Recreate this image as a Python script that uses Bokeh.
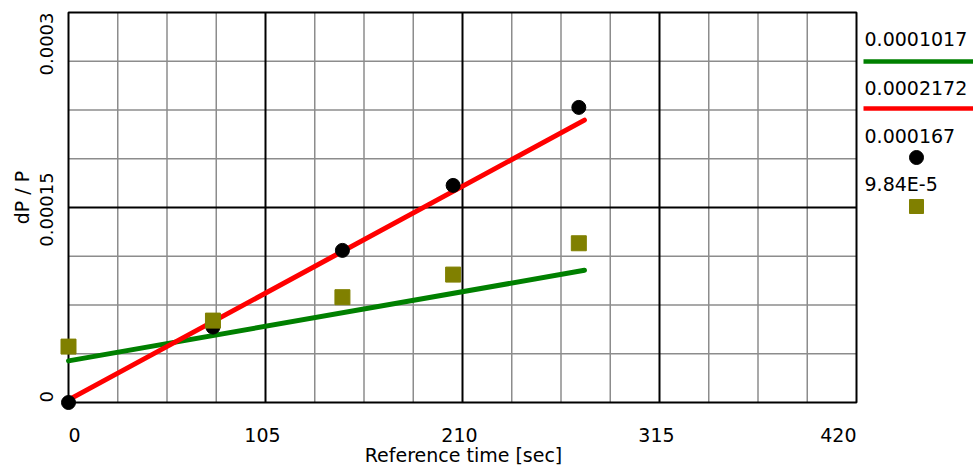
import math
from bokeh.plotting import figure
from bokeh.models import Range1d
from bokeh.embed import file_html
from bokeh.resources import INLINE
from bokeh.core.properties import value

# ---- data ----
time_s = [0, 77, 146, 205, 272]
dp_black = [0.0, 5.8e-5, 1.17e-4, 1.67e-4, 2.27e-4]
dp_olive = [4.3e-5, 6.3e-5, 8.1e-5, 9.84e-5, 1.225e-4]
fit_time = [0, 275]
fit_green = [3.2e-5, 1.017e-4]
fit_red = [2e-6, 2.172e-4]

x_ticks = [0, 105, 210, 315, 420]
x_tick_labels = ["0", "105", "210", "315", "420"]
y_ticks = [0.0, 0.00015, 0.0003]
y_tick_labels = ["0", "0.00015", "0.0003"]
legend_labels = ["0.0001017", "0.0002172", "0.000167", "9.84E-5"]
x_title = "Reference time [sec]"
y_title = "dP / P"

FONT = "DejaVu Sans"
GREEN = "#008000"
RED = "#ff0000"
OLIVE = "#808000"
GREY = "#8c8c8c"

# ---- layout: plot area placed inside a full-canvas frame ----
W, H = 973, 469
FX0, FX1 = 68, 856     # pixel edges of the plotting area
FY0, FY1 = 12, 402
x_min, x_max = x_ticks[0], x_ticks[-1]
y_min, y_max = y_ticks[0], y_ticks[-1]
kx = (FX1 - FX0) / (x_max - x_min)
ky = (FY1 - FY0) / (y_max - y_min)


def px_x(px):
    return x_min + (px - FX0) / kx


def px_y(py):
    return y_min + (FY1 - py) / ky


p = figure(width=W, height=H, title=None,
           x_range=Range1d(px_x(0), px_x(W)), y_range=Range1d(px_y(H), px_y(0)),
           x_axis_location=None, y_axis_location=None,
           toolbar_location=None, output_backend="svg", min_border=0)
p.grid.visible = False
p.outline_line_color = None
p.background_fill_color = "white"
p.border_fill_color = "white"

# grid lines
step_x = (x_ticks[1] - x_ticks[0]) / 4
step_y = (y_ticks[1] - y_ticks[0]) / 4
minor_x = [x_min + i * step_x for i in range(1, 16) if i % 4 != 0]
major_x = x_ticks[1:-1]
minor_y = [y_min + i * step_y for i in range(1, 8) if i % 4 != 0]
major_y = y_ticks[1:-1]

p.segment(x0=minor_x, y0=[y_min] * len(minor_x), x1=minor_x, y1=[y_max] * len(minor_x),
          line_color=GREY, line_width=1.5)
p.segment(x0=[x_min] * len(minor_y), y0=minor_y, x1=[x_max] * len(minor_y), y1=minor_y,
          line_color=GREY, line_width=1.5)
p.segment(x0=major_x, y0=[y_min] * len(major_x), x1=major_x, y1=[y_max] * len(major_x),
          line_color="black", line_width=2)
p.segment(x0=[x_min] * len(major_y), y0=major_y, x1=[x_max] * len(major_y), y1=major_y,
          line_color="black", line_width=2)
p.quad(left=[x_min], right=[x_max], bottom=[y_min], top=[y_max],
       fill_color=None, line_color="black", line_width=2)

# fit lines and measured points
p.line(fit_time, fit_green, line_color=GREEN, line_width=5, line_cap="round")
p.line(fit_time, fit_red, line_color=RED, line_width=5, line_cap="round")
p.scatter(time_s, dp_black, marker="circle", size=14, fill_color="black", line_color="black")
p.scatter(time_s, dp_olive, marker="square", size=15, fill_color=OLIVE, line_color=OLIVE)

tstyle = dict(text_font=value(FONT), text_color="black", text_baseline="middle")

# x tick labels
ly = px_y(434)
p.text(x=[x_ticks[0]], y=[ly], text=[x_tick_labels[0]], text_align="left",
       text_font_size=value("19px"), **tstyle)
p.text(x=[t - 3 / kx for t in x_ticks[1:-1]], y=[ly] * 3, text=x_tick_labels[1:-1],
       text_align="center", text_font_size=value("19px"), **tstyle)
p.text(x=[x_ticks[-1]], y=[ly], text=[x_tick_labels[-1]], text_align="right",
       text_font_size=value("19px"), **tstyle)

# y tick labels (rotated)
lx = px_x(46)
p.text(x=[lx], y=[y_ticks[0]], text=[y_tick_labels[0]], angle=math.pi / 2,
       text_align="left", text_font_size=value("18px"), **tstyle)
p.text(x=[lx], y=[y_ticks[1] - 2 / ky], text=[y_tick_labels[1]], angle=math.pi / 2,
       text_align="center", text_font_size=value("18px"), **tstyle)
p.text(x=[lx], y=[y_ticks[2]], text=[y_tick_labels[2]], angle=math.pi / 2,
       text_align="right", text_font_size=value("18px"), **tstyle)

# axis titles
p.text(x=[px_x(463)], y=[px_y(454)], text=[x_title], text_align="center",
       text_font_size=value("19px"), **tstyle)
p.text(x=[px_x(21)], y=[px_y(197)], text=[y_title], angle=math.pi / 2,
       text_align="center", text_font_size=value("19px"), **tstyle)

# legend on the right
text_rows = [38, 87, 135, 183]
p.text(x=[px_x(864)] * 4, y=[px_y(r) for r in text_rows], text=legend_labels,
       text_align="left", text_font_size=value("19px"), **tstyle)
p.line([px_x(863), px_x(W)], [px_y(61)] * 2, line_color=GREEN, line_width=4.5)
p.line([px_x(863), px_x(W)], [px_y(108)] * 2, line_color=RED, line_width=4.5)
p.scatter([px_x(916)], [px_y(157)], marker="circle", size=14, fill_color="black", line_color="black")
p.scatter([px_x(916)], [px_y(206)], marker="square", size=14, fill_color=OLIVE, line_color=OLIVE)

open("out.html", "w").write(file_html(p, INLINE))
